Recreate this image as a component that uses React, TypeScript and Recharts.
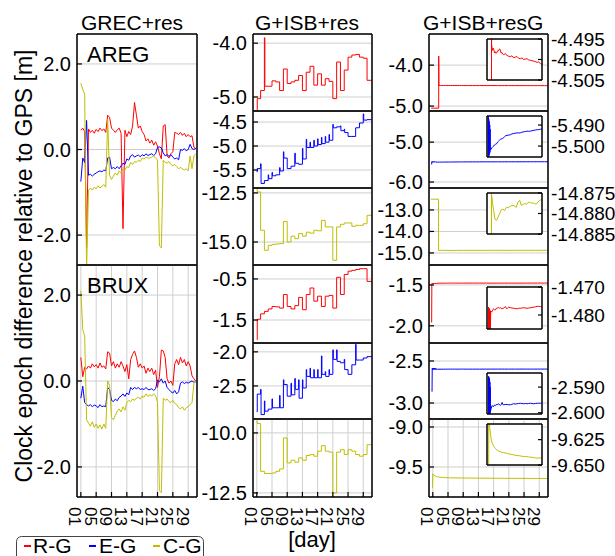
import { LineChart, Line, XAxis, YAxis, CartesianGrid } from 'recharts';

const FONT = '"Liberation Sans", Arial, Helvetica, sans-serif';
const RED = '#ff0000';
const BLUE = '#0000ff';
const OLIVE = '#bfbf00';
const GRID = '#cfcfcf';
const AXIS = { stroke: '#000', strokeWidth: 1.5 };
const TICK = { stroke: '#000', strokeWidth: 1.2 };

const DAY_TICKS = [1, 5, 9, 13, 17, 21, 25, 29];
const DAY_DOMAIN: [number, number] = [0, 31.3];

// GREC+res, half-day samples from day 1.0 to 31.0
const aregRG = [
  0.45, 0.5, 0.42, -2.3, 0.48, 0.4, 0.45, 0.38, 0.47, 0.42,
  0.5, 0.44, 0.48, 0.4, 0.8, 0.75, 0.5, 0.45, 0.4, 0.46,
  0.5, 0.38, -1.85, 0.45, 0.3, 0.42, 0.35, 0.55, 1.1, 0.8,
  0.5, 0.55, 0.42, 0.35, 0.2, 0.25, 0.15, 0.22, 0.1, 0.18,
  0.08, -0.1, -0.22, 0.55, 0.58, -0.15, -0.2, -0.1, -0.05, 0.4,
  0.38, 0.35, 0.4, 0.33, 0.38, 0.3, 0.35, 0.3, 0.32, 0.05,
  0.02,
];
const aregEG = [
  -0.75, -0.2, -0.3, 0.68, -0.6, -0.58, -0.62, -0.58, -0.55, -0.52,
  -0.5, -0.52, -0.48, -0.5, -0.2, -0.18, -0.45, -0.42, -0.45, -0.4,
  -0.45, -0.38, -0.32, -0.35, -0.22, -0.25, -0.15, -0.12, -0.18, -0.15,
  -0.13, -0.17, -0.12, -0.15, -0.1, -0.14, -0.12, -0.1, -0.14, -0.1,
  0.05, 0.06, 0.04, -0.08, -0.15, -0.12, -0.16, -0.12, -0.18, -0.22,
  -0.2, -0.24, 0.0, -0.02, 0.02, -0.03, 0.0, 0.12, 0.02, 0.0,
  0.03,
];
const aregCG = [
  1.55, 1.4, 1.3, -2.8, -0.95, -0.9, -0.95, -0.88, -0.92, -0.85,
  -0.9, -0.86, -0.82, -0.88, 0.7, -0.6, -0.7, -0.62, -0.55, -0.6,
  -0.5, -0.55, -0.45, -0.48, -0.4, -0.42, -0.3, -0.35, -0.28, -0.3,
  -0.25, -0.28, -0.2, -0.22, -0.18, -0.2, -0.2, -0.18, -0.15, -0.2,
  -0.25, -2.25, -2.3, -0.25, -0.3, -0.32, -0.28, -0.35, -0.38, -0.35,
  -0.4, -0.45, -0.42, -0.45, -0.48, -0.45, -0.5, -0.15, -0.45, -0.15,
  -0.1,
];
const bruxRG = [
  0.55, 0.1, 0.32, 0.28, 0.35, 0.3, 0.4, 0.33, 0.38, 0.3,
  0.42, 0.32, 0.35, 0.28, 0.68, 0.65, 0.35, 0.45, 0.3, 0.4,
  0.32, 0.45, 0.35, 0.22, 0.38, 0.05, 0.5, 0.62, 0.7, 0.55,
  0.32, 0.4, 0.3, 0.35, 0.18, 0.3, 0.22, 0.3, 0.15, 0.25,
  -0.15, 0.1, 0.72, 0.7, 0.55, 0.05, -0.05, 0.0, -0.1, 0.4,
  0.5, 0.38, 0.55, 0.42, 0.5, 0.35, 0.45, 0.35, 0.12, 0.05,
  0.0,
];
const bruxEG = [
  -0.4, -0.12, -0.5, -0.55, -0.58, -0.55, -0.6, -0.56, -0.58, -0.62,
  -0.55, -0.6, -0.58, -0.6, -0.15, -0.2, -0.45, -0.48, -0.42, -0.46,
  -0.38, -0.35, -0.3, -0.36, -0.28, -0.32, -0.15, -0.2, -0.15, -0.18,
  -0.15, -0.2, -0.18, -0.2, -0.15, -0.2, -0.2, -0.18, -0.22, -0.18,
  0.02, -0.02, 0.05, -0.05, 0.0, -0.15, -0.2, -0.25, -0.28, -0.22,
  -0.3, -0.25, -0.05, -0.02, -0.06, -0.03, -0.05, -0.02, 0.0, -0.03,
  -0.02,
];
const bruxCG = [
  2.1, 1.2, 1.05, -0.9, -0.98, -1.05, -0.95, -1.08, -1.0, -1.1,
  -1.02, -1.12, -1.0, -1.1, 0.0, -0.1, -0.85, -0.9, -0.8, -0.7,
  -0.65, -0.72, -0.6, -0.68, -0.5, -0.45, -0.48, -0.42, -0.45, -0.4,
  -0.38, -0.42, -0.35, -0.38, -0.3, -0.36, -0.32, -0.35, -0.3, -0.34,
  -0.5, -2.55, -2.6, -0.4, -0.45, -0.42, -0.48, -0.5, -0.45, -0.52,
  -0.55, -0.62, -0.65, -0.6, -0.68, -0.62, -0.6, -0.55, -0.5, -0.05,
  0.0,
];

// G+ISB+res, daily levels (day 1..30) and the value at the start of each day
const aregRLevel = [-5.03, -4.88, -4.8, -4.8, -4.7, -4.72, -4.88, -4.48, -4.75, -4.72, -4.69, -4.6, -4.88, -4.54, -4.43, -4.78, -4.57, -4.78, -4.66, -4.71, -5.03, -4.35, -4.88, -4.5, -4.26, -4.22, -4.21, -4.26, -4.28, -4.69];
const aregRStart = [-5.25, null, -3.9, null, null, null, null, null, null, null, null, null, null, null, null, null, null, null, null, null, null, null, null, null, null, null, null, null, null, null];
const aregELevel = [-5.47, -5.78, -5.72, -5.68, -5.62, -5.6, -5.52, -5.25, -5.47, -5.42, -5.36, -5.38, -5.27, -5.03, -5.03, -5.0, -4.97, -4.95, -4.92, -4.88, -4.62, -4.6, -4.68, -4.72, -4.8, -4.8, -4.62, -4.52, -4.46, -4.45];
const aregEStart = [-5.54, -5.37, null, -5.6, -5.55, null, -5.45, -5.12, null, null, -5.15, null, -5.05, -4.86, -4.92, -4.88, -4.85, -4.82, -4.8, -4.76, -4.55, null, -4.58, -4.65, null, null, null, null, -4.33, null];
const aregCLevel = [-12.45, -14.4, -15.42, -15.17, -15.12, -15.1, -15.08, -13.95, -15.0, -14.7, -14.83, -14.57, -14.7, -14.5, -14.55, -14.4, -14.43, -13.9, -14.23, -14.23, -15.93, -14.23, -14.1, -14.03, -14.03, -14.2, -14.15, -14.15, -14.07, -13.64];
const aregCStart = [-12.3, null, null, null, null, null, null, null, null, null, null, null, null, null, null, null, null, null, null, null, null, null, null, null, null, null, null, null, null, null];
const bruxRLevel = [-1.48, -1.35, -1.29, -1.23, -1.17, -1.18, -1.21, -0.88, -1.17, -1.23, -1.15, -0.95, -1.25, -0.88, -0.72, -1.04, -0.92, -1.17, -0.92, -0.9, -1.21, -0.46, -0.88, -0.39, -0.31, -0.29, -0.27, -0.25, -0.25, -0.56];
const bruxRStart = [-1.98, null, null, null, null, null, null, null, null, null, null, null, null, null, null, null, null, null, null, null, null, null, null, null, null, null, null, null, null, null];
const bruxELevel = [-2.62, -2.92, -2.87, -2.84, -2.82, -2.82, -2.82, -2.48, -2.65, -2.63, -2.55, -2.68, -2.53, -2.36, -2.38, -2.38, -2.38, -2.33, -2.36, -2.33, -2.11, -2.14, -2.16, -2.26, -2.33, -2.19, -2.12, -2.12, -2.09, -2.07];
const bruxEStart = [-2.88, -2.55, -2.72, null, -2.69, null, -2.64, -2.41, null, -2.46, -2.39, -2.41, -2.41, -2.26, -2.24, -2.26, -2.26, -2.06, -2.29, -2.26, -1.97, -1.97, null, -2.11, null, null, -1.89, null, null, null];
const bruxCLevel = [-9.61, -11.6, -11.69, -11.69, -11.67, -11.6, -11.5, -10.21, -11.25, -11.14, -11.22, -11.04, -11.14, -10.94, -10.9, -10.97, -10.76, -10.53, -10.76, -10.8, -12.5, -10.8, -10.7, -10.9, -10.7, -10.76, -10.9, -10.97, -10.9, -10.49];
const bruxCStart = [-9.5, null, null, null, null, null, null, null, null, null, null, null, null, null, null, null, null, null, null, null, null, null, null, null, null, null, null, null, null, null];

// G+ISB+resG, [day, value]
const aregRResG = [
  [0.6, -5.05], [2.55, -5.05], [2.56, -3.78], [2.62, -4.4962], [3.0, -4.4978], [3.4, -4.4972], [3.8, -4.4975],
  [4.3, -4.4984], [4.7, -4.4981], [5.2, -4.4985], [5.7, -4.4982], [6.2, -4.4978], [6.6, -4.4979], [7.1, -4.4974],
  [7.6, -4.4977], [8.0, -4.4984], [8.5, -4.4983], [9.0, -4.4987], [9.5, -4.4988], [10.4, -4.4986], [11.4, -4.499],
  [12.3, -4.4992], [13.3, -4.4993], [14.2, -4.4991], [15.2, -4.4996], [16.1, -4.4994], [17.1, -4.4993], [18.0, -4.4997],
  [19.0, -4.4998], [19.9, -4.4996], [20.9, -4.5], [21.8, -4.4999], [22.8, -4.4998], [23.7, -4.5001], [24.7, -4.5002],
  [25.6, -4.5003], [26.6, -4.5004], [27.5, -4.5005], [28.5, -4.5007], [29.4, -4.5006], [30.4, -4.501], [31.2, -4.5012],
];
const aregEResG = [
  [0.7, -5.56], [0.75, -5.486], [0.85, -5.504], [0.95, -5.487], [1.05, -5.505], [1.15, -5.488], [1.25, -5.503],
  [1.35, -5.489], [1.45, -5.504], [1.55, -5.49], [1.65, -5.503], [1.75, -5.492], [1.85, -5.502], [2.2, -5.5016],
  [2.8, -5.5008], [3.3, -5.5003], [3.8, -5.5], [4.2, -5.4995], [4.7, -5.4992], [5.2, -5.499], [5.7, -5.4987],
  [6.1, -5.498], [6.6, -5.4976], [7.1, -5.4972], [7.6, -5.4968], [8.0, -5.4967], [8.5, -5.4965], [9.0, -5.4963],
  [9.5, -5.496], [10.0, -5.4955], [10.4, -5.4952], [11.4, -5.4949], [12.3, -5.4948], [13.3, -5.4946], [14.2, -5.4942],
  [15.2, -5.494], [16.1, -5.4939], [17.1, -5.4937], [18.0, -5.4938], [19.0, -5.4937], [19.9, -5.4934], [20.9, -5.4932],
  [21.8, -5.4931], [22.8, -5.4929], [23.7, -5.493], [24.7, -5.4929], [25.6, -5.4927], [26.6, -5.4925], [27.5, -5.4924],
  [28.5, -5.4922], [29.4, -5.4922], [30.4, -5.492], [31.2, -5.4919],
];
const aregCResG = [
  [0.5, -12.5], [2.5, -12.5], [2.52, -14.89], [2.6, -14.8755], [3.2, -14.8775], [3.8, -14.8793], [4.5, -14.8813],
  [5.3, -14.8817], [6.2, -14.881], [7.2, -14.88], [8.1, -14.8791], [9.1, -14.8789], [10.0, -14.8793], [11.0, -14.8785],
  [12.0, -14.8786], [12.9, -14.8783], [13.8, -14.8781], [14.8, -14.878], [15.7, -14.8782], [16.7, -14.8785], [17.6, -14.8772],
  [18.6, -14.8768], [19.5, -14.878], [20.5, -14.8778], [21.4, -14.8776], [22.4, -14.8777], [23.3, -14.8774], [24.3, -14.8772],
  [25.2, -14.8775], [26.2, -14.8774], [27.1, -14.8776], [28.1, -14.8777], [29.0, -14.8772], [30.0, -14.8768], [31.2, -14.8766],
];
const bruxRResG = [
  [0.7, -1.96], [0.75, -1.4858], [0.85, -1.4772], [0.95, -1.4857], [1.05, -1.4775], [1.15, -1.4856], [1.25, -1.4778],
  [1.35, -1.4856], [1.45, -1.478], [1.55, -1.4855], [1.65, -1.4783], [1.75, -1.4855], [1.85, -1.4786], [1.95, -1.4852],
  [2.1, -1.4788], [2.9, -1.4788], [3.4, -1.478], [3.8, -1.4778], [4.3, -1.4781], [4.8, -1.4782], [5.2, -1.4777],
  [5.7, -1.4776], [6.2, -1.4774], [6.7, -1.4773], [7.1, -1.4776], [7.6, -1.4774], [8.1, -1.4777], [8.6, -1.4778],
  [9.0, -1.4775], [9.5, -1.4776], [10.0, -1.4772], [10.5, -1.477], [11.0, -1.4776], [11.4, -1.4778], [11.9, -1.4774],
  [12.4, -1.4772], [13.3, -1.4774], [14.2, -1.4775], [15.2, -1.4776], [16.1, -1.4777], [17.1, -1.4778], [18.0, -1.4776],
  [19.0, -1.4776], [19.9, -1.4775], [20.9, -1.4774], [21.8, -1.4775], [22.8, -1.4776], [23.7, -1.4775], [24.7, -1.4774],
  [25.6, -1.4773], [26.6, -1.4772], [27.5, -1.4771], [28.5, -1.4769], [29.4, -1.4769], [30.4, -1.477], [31.2, -1.4771],
];
const bruxEResG = [
  [0.8, -2.865], [0.85, -2.5858], [0.95, -2.6006], [1.05, -2.586], [1.15, -2.6006], [1.25, -2.5865], [1.35, -2.6005],
  [1.45, -2.587], [1.55, -2.6004], [1.65, -2.588], [1.75, -2.6002], [1.85, -2.59], [1.95, -2.5995], [2.3, -2.5985],
  [2.9, -2.5972], [3.4, -2.5976], [3.8, -2.5975], [4.3, -2.597], [4.8, -2.5972], [5.2, -2.5968], [5.7, -2.5969],
  [6.2, -2.5967], [6.7, -2.5965], [7.1, -2.5969], [7.6, -2.5972], [8.1, -2.5968], [8.6, -2.596], [9.0, -2.5968],
  [9.5, -2.5969], [10.4, -2.5968], [11.4, -2.5968], [12.4, -2.5969], [13.3, -2.5969], [14.2, -2.5967], [15.2, -2.5965],
  [16.1, -2.5966], [17.1, -2.5965], [18.0, -2.5964], [19.0, -2.5963], [19.9, -2.5964], [20.9, -2.5965], [21.8, -2.5964],
  [22.8, -2.5965], [23.7, -2.5964], [24.7, -2.5963], [25.6, -2.5964], [26.6, -2.5965], [27.5, -2.5964], [28.5, -2.5963],
  [29.4, -2.5963], [30.4, -2.5963], [31.2, -2.5962],
];
const bruxCResG = [
  [0.9, -9.76], [1.0, -9.585], [1.5, -9.6128], [2.0, -9.6192], [2.3, -9.624], [2.6, -9.6265], [2.9, -9.6282],
  [3.4, -9.63], [3.8, -9.6314], [4.3, -9.6327], [4.8, -9.6337], [5.2, -9.6346], [5.7, -9.6353], [6.6, -9.6362],
  [7.6, -9.6369], [8.5, -9.6374], [9.5, -9.6378], [10.4, -9.6382], [11.4, -9.6385], [12.3, -9.639], [13.3, -9.6394],
  [14.2, -9.6397], [15.2, -9.64], [16.1, -9.6404], [17.1, -9.6407], [18.0, -9.6408], [19.0, -9.641], [19.9, -9.6414],
  [20.9, -9.6417], [21.8, -9.6416], [22.8, -9.6418], [23.7, -9.6421], [24.7, -9.6423], [25.6, -9.6424], [26.6, -9.6426],
  [27.5, -9.643], [28.5, -9.6433], [29.4, -9.6431], [30.4, -9.643], [31.2, -9.6432],
];

const halfDays = aregRG.map((_, i) => 1 + i * 0.5);
const aregData = halfDays.map((x, i) => ({ x, r: aregRG[i], e: aregEG[i], c: aregCG[i] }));
const bruxData = halfDays.map((x, i) => ({ x, r: bruxRG[i], e: bruxEG[i], c: bruxCG[i] }));

function stepSeries(level: number[], start: (number | null)[]) {
  const pts: { x: number; v: number }[] = [];
  level.forEach((v, i) => {
    const s = start[i];
    if (s != null) {
      pts.push({ x: i + 1, v: s });
      pts.push({ x: i + 1.12, v });
    } else {
      pts.push({ x: i + 1, v });
    }
  });
  pts.push({ x: 31.2, v: level[level.length - 1] });
  return pts;
}

const toPoints = (pairs: number[][]) => pairs.map(([x, v]) => ({ x, v }));

// day labels read top to bottom, sitting just left of their tick
const renderDayTick = (props: any) => {
  const { x, y, payload } = props;
  return (
    <g transform={`translate(${x - 6},${y})`}>
      <text x={0} y={0} transform="rotate(90)" textAnchor="start" dominantBaseline="central" fontSize={17} fill="#000">
        {String(payload.value).padStart(2, '0')}
      </text>
    </g>
  );
};

// value labels placed at a fixed x, so the gap to the axis is the same in every panel
const valueTick = (x: number, digits: number, size: number, anchor: 'start' | 'end') => (props: any) => (
  <text x={x} y={props.y} textAnchor={anchor} dominantBaseline="central" fontSize={size} fill="#000">
    {Number(props.payload.value).toFixed(digits)}
  </text>
);

type Series = { key: string; color: string };

interface PanelProps {
  left: number;
  top: number;
  width: number;
  height: number;
  domain: [number, number];
  ticks: number[];
  data: any[];
  series: Series[];
  step?: boolean;
  dayLabels?: boolean;
}

function Panel({ left, top, width, height, domain, ticks, data, series, step, dayLabels }: PanelProps) {
  const padL = 80;
  const padR = 10;
  const padT = 6;
  const padB = dayLabels ? 40 : 6;
  return (
    <div style={{ position: 'absolute', left: left - padL, top: top - padT }}>
      <LineChart width={padL + width + padR} height={padT + height + padB} data={data} margin={{ top: 0, right: 0, bottom: 0, left: 0 }}>
        <CartesianGrid stroke={GRID} strokeWidth={1} />
        <XAxis dataKey="x" type="number" domain={DAY_DOMAIN} ticks={DAY_TICKS} interval={0} allowDataOverflow height={padB}
          axisLine={AXIS} tickLine={TICK} tickSize={-5} tickMargin={15} tick={dayLabels ? renderDayTick : false} />
        <XAxis xAxisId="top" orientation="top" dataKey="x" type="number" domain={DAY_DOMAIN} ticks={DAY_TICKS} interval={0}
          allowDataOverflow height={padT} axisLine={AXIS} tickLine={TICK} tickSize={-5} tick={false} />
        <YAxis type="number" domain={domain} ticks={ticks} interval={0} allowDataOverflow width={padL}
          axisLine={AXIS} tickLine={TICK} tickSize={-5} tick={valueTick(padL - 6, 1, 20, 'end')} />
        <YAxis yAxisId="right" orientation="right" type="number" domain={domain} ticks={ticks} interval={0} allowDataOverflow
          width={padR} axisLine={AXIS} tickLine={TICK} tickSize={-5} tick={false} />
        {series.map((s) => (
          <Line key={s.key} dataKey={s.key} type={step ? 'stepAfter' : 'linear'} stroke={s.color} strokeWidth={1}
            dot={false} activeDot={false} isAnimationActive={false} />
        ))}
      </LineChart>
    </div>
  );
}

interface InsetProps {
  top: number;
  height: number;
  domain: [number, number];
  ticks: number[];
  data: any[];
  color: string;
}

function Inset({ top, height, domain, ticks, data, color }: InsetProps) {
  const left = 487;
  const width = 55;
  const padL = 2;
  const padV = 14;
  const padR = 90;
  return (
    <>
      <div style={{ position: 'absolute', left, top, width, height, background: '#fff' }} />
      <div style={{ position: 'absolute', left: left - padL, top: top - padV }}>
        <LineChart width={padL + width + padR} height={padV * 2 + height} data={data} margin={{ top: 0, right: 0, bottom: 0, left: 0 }}>
          <XAxis dataKey="x" type="number" domain={DAY_DOMAIN} ticks={DAY_TICKS} interval={0} allowDataOverflow height={padV}
            axisLine={AXIS} tickLine={TICK} tickSize={-4} tick={false} />
          <XAxis xAxisId="top" orientation="top" dataKey="x" type="number" domain={DAY_DOMAIN} allowDataOverflow height={padV}
            axisLine={AXIS} tickLine={false} tick={false} />
          <YAxis type="number" domain={domain} allowDataOverflow width={padL} axisLine={AXIS} tickLine={false} tick={false} />
          <YAxis yAxisId="right" orientation="right" type="number" domain={domain} ticks={ticks} interval={0} allowDataOverflow
            width={padR} axisLine={AXIS} tickLine={TICK} tickSize={-4}
            tick={valueTick(padL + width + 9, 3, 19, 'start')} />
          <Line dataKey="v" type="linear" stroke={color} strokeWidth={1} dot={false} activeDot={false} isAnimationActive={false} />
        </LineChart>
      </div>
    </>
  );
}

const ROWS = [34, 111, 188, 265, 343, 419, 497];
const COL2_X = 253;
const COL3_X = 429;
const PANEL_W = 119;

export default function App() {
  const rowTop = (i: number) => ROWS[i];
  const rowH = (i: number) => ROWS[i + 1] - ROWS[i];
  const one = (color: string): Series[] => [{ key: 'v', color }];
  const three: Series[] = [
    { key: 'r', color: RED },
    { key: 'e', color: BLUE },
    { key: 'c', color: OLIVE },
  ];

  return (
    <div style={{ position: 'absolute', left: 0, top: 0, width: 615, height: 556, overflow: 'hidden', background: '#fff', fontFamily: FONT }}>
      {/* GREC+res */}
      <Panel left={77} top={34} width={120} height={231} domain={[-2.7, 2.7]} ticks={[-2, 0, 2]} data={aregData} series={three} />
      <Panel left={77} top={265} width={120} height={232} domain={[-2.7, 2.7]} ticks={[-2, 0, 2]} data={bruxData} series={three} dayLabels />

      {/* G+ISB+res */}
      <Panel left={COL2_X} top={rowTop(0)} width={PANEL_W} height={rowH(0)} domain={[-5.26, -3.83]} ticks={[-5, -4]}
        data={stepSeries(aregRLevel, aregRStart)} series={one(RED)} step />
      <Panel left={COL2_X} top={rowTop(1)} width={PANEL_W} height={rowH(1)} domain={[-5.875, -4.27]} ticks={[-5.5, -5, -4.5]}
        data={stepSeries(aregELevel, aregEStart)} series={one(BLUE)} step />
      <Panel left={COL2_X} top={rowTop(2)} width={PANEL_W} height={rowH(2)} domain={[-16.17, -12.25]} ticks={[-15, -12.5]}
        data={stepSeries(aregCLevel, aregCStart)} series={one(OLIVE)} step />
      <Panel left={COL2_X} top={rowTop(3)} width={PANEL_W} height={rowH(3)} domain={[-2.06, -0.16]} ticks={[-1.5, -0.5]}
        data={stepSeries(bruxRLevel, bruxRStart)} series={one(RED)} step />
      <Panel left={COL2_X} top={rowTop(4)} width={PANEL_W} height={rowH(4)} domain={[-2.985, -1.87]} ticks={[-2.5, -2]}
        data={stepSeries(bruxELevel, bruxEStart)} series={one(BLUE)} step />
      <Panel left={COL2_X} top={rowTop(5)} width={PANEL_W} height={rowH(5)} domain={[-12.67, -9.42]} ticks={[-12.5, -10]}
        data={stepSeries(bruxCLevel, bruxCStart)} series={one(OLIVE)} step dayLabels />

      {/* G+ISB+resG */}
      <Panel left={COL3_X} top={rowTop(0)} width={PANEL_W} height={rowH(0)} domain={[-5.12, -3.24]} ticks={[-5, -4]}
        data={toPoints(aregRResG)} series={one(RED)} />
      <Panel left={COL3_X} top={rowTop(1)} width={PANEL_W} height={rowH(1)} domain={[-6.15, -4.22]} ticks={[-6, -5]}
        data={toPoints(aregEResG)} series={one(BLUE)} />
      <Panel left={COL3_X} top={rowTop(2)} width={PANEL_W} height={rowH(2)} domain={[-15.56, -11.98]} ticks={[-15, -14, -13]}
        data={toPoints(aregCResG)} series={one(OLIVE)} />
      <Panel left={COL3_X} top={rowTop(3)} width={PANEL_W} height={rowH(3)} domain={[-2.21, -1.256]} ticks={[-2, -1.5]}
        data={toPoints(bruxRResG)} series={one(RED)} />
      <Panel left={COL3_X} top={rowTop(4)} width={PANEL_W} height={rowH(4)} domain={[-3.19, -2.286]} ticks={[-3, -2.5]}
        data={toPoints(bruxEResG)} series={one(BLUE)} />
      <Panel left={COL3_X} top={rowTop(5)} width={PANEL_W} height={rowH(5)} domain={[-9.875, -8.9]} ticks={[-9.5, -9]}
        data={toPoints(bruxCResG)} series={one(OLIVE)} dayLabels />

      <Inset top={39} height={41} domain={[-4.505, -4.495]} ticks={[-4.505, -4.5, -4.495]} data={toPoints(aregRResG)} color={RED} />
      <Inset top={116} height={41} domain={[-5.5052, -5.4857]} ticks={[-5.5, -5.49]} data={toPoints(aregEResG)} color={BLUE} />
      <Inset top={193} height={41} domain={[-14.885, -14.875]} ticks={[-14.885, -14.88, -14.875]} data={toPoints(aregCResG)} color={OLIVE} />
      <Inset top={287} height={42} domain={[-1.485, -1.47]} ticks={[-1.48, -1.47]} data={toPoints(bruxRResG)} color={RED} />
      <Inset top={373} height={41} domain={[-2.6005, -2.5845]} ticks={[-2.6, -2.59]} data={toPoints(bruxEResG)} color={BLUE} />
      <Inset top={424} height={41} domain={[-9.65, -9.6096]} ticks={[-9.65, -9.625]} data={toPoints(bruxCResG)} color={OLIVE} />

      <svg width={615} height={556} style={{ position: 'absolute', left: 0, top: 0, pointerEvents: 'none' }}>
        <g fill="#000">
          <text x={81} y={30} fontSize={21}>GREC+res</text>
          <text x={255} y={30} fontSize={21}>G+ISB+res</text>
          <text x={423} y={30} fontSize={21}>G+ISB+resG</text>
          <text x={87} y={62} fontSize={22}>AREG</text>
          <text x={87} y={293} fontSize={22}>BRUX</text>
          <text transform="translate(32 266) rotate(-90)" textAnchor="middle" fontSize={23}>
            Clock epoch difference relative to GPS [m]
          </text>
          <text x={312} y={547} textAnchor="middle" fontSize={22}>[day]</text>
        </g>
        <rect x={16.5} y={536.5} width={187} height={30} rx={5} fill="#fff" stroke="#444" strokeWidth={1} />
        <line x1={24} x2={31} y1={546} y2={546} stroke={RED} strokeWidth={2} />
        <text x={33} y={553} fontSize={21} fill="#000">R-G</text>
        <line x1={89} x2={96} y1={546} y2={546} stroke={BLUE} strokeWidth={2} />
        <text x={99} y={553} fontSize={21} fill="#000">E-G</text>
        <line x1={153} x2={160} y1={546} y2={546} stroke={OLIVE} strokeWidth={2} />
        <text x={163} y={553} fontSize={21} fill="#000">C-G</text>
      </svg>
    </div>
  );
}
